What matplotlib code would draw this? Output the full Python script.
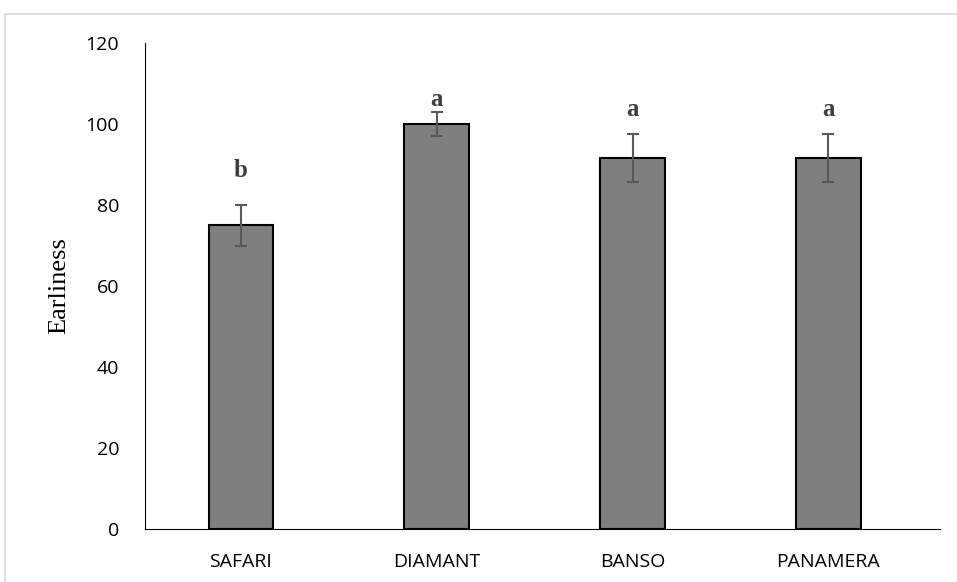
import numpy as np
import matplotlib.pyplot as plt
from matplotlib.patches import Rectangle

varieties = ["SAFARI", "DIAMANT", "BANSO", "PANAMERA"]
earliness = [75.0, 100.0, 91.7, 91.7]
err = [5.0, 2.9, 5.9, 5.9]
letters = ["b", "a", "a", "a"]
letter_y = [88.5, 106.0, 103.7, 103.7]

fig = plt.figure(figsize=(9.57, 5.82), dpi=100)
ax = fig.add_axes([145/957, 53/582, 795/957, 486/582])

# thin grey frame around the whole chart area
fig.patches.append(Rectangle((5/957, -0.2), 1.2, 1.2 - 14/582,
                             transform=fig.transFigure, fill=False,
                             edgecolor="#d9d9d9", lw=1.2))

x = np.arange(len(varieties))
ax.bar(x, earliness, width=0.33, color="#7f7f7f", edgecolor="black", lw=1.5, zorder=2)
ax.errorbar(x, earliness, yerr=err, fmt="none", ecolor="#595959", elinewidth=1.5,
            capsize=4.5, capthick=1.5, zorder=3)

for xi, lab, ly in zip(x, letters, letter_y):
    ax.text(xi, ly, lab, ha="center", va="center", fontsize=18, fontweight="bold",
            family="Liberation Serif", color="#404040")

ax.set_xlim(-0.49, 3.57)
ax.set_ylim(0, 120)
ax.set_yticks(range(0, 121, 20))
ax.set_xticks(x)
ax.set_xticklabels(varieties)
ax.tick_params(length=0, labelsize=14, labelcolor="black")
for t in ax.get_xticklabels() + ax.get_yticklabels():
    t.set_family("Open Sans")
ax.tick_params(axis="x", pad=17)
ax.tick_params(axis="y", pad=18.5)
ax.set_ylabel("Earliness", family="Liberation Serif", fontsize=19, labelpad=11)
ax.spines["top"].set_visible(False)
ax.spines["right"].set_visible(False)

plt.savefig("out.png", dpi=100)
